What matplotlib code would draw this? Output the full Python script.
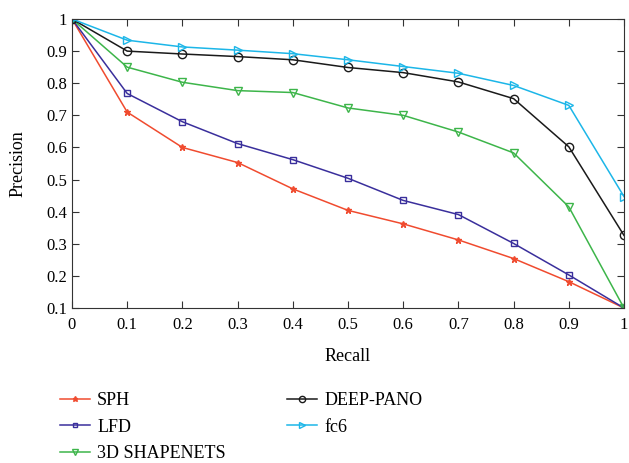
import matplotlib
matplotlib.use("Agg")
import matplotlib.pyplot as plt

recall = [0, 0.1, 0.2, 0.3, 0.4, 0.5, 0.6, 0.7, 0.8, 0.9, 1.0]
sph = [1.0, 0.71, 0.60, 0.553, 0.471, 0.404, 0.362, 0.312, 0.254, 0.182, 0.10]
lfd = [1.0, 0.768, 0.68, 0.612, 0.562, 0.504, 0.435, 0.391, 0.301, 0.203, 0.10]
shapenets = [1.0, 0.85, 0.803, 0.777, 0.771, 0.723, 0.70, 0.648, 0.583, 0.415, 0.10]
deeppano = [1.0, 0.90, 0.891, 0.883, 0.873, 0.849, 0.833, 0.804, 0.752, 0.602, 0.326]
fc6 = [1.0, 0.934, 0.913, 0.903, 0.892, 0.873, 0.852, 0.831, 0.793, 0.731, 0.447]

xticks = [0, 0.1, 0.2, 0.3, 0.4, 0.5, 0.6, 0.7, 0.8, 0.9, 1]
xticklabels = ["0", "0.1", "0.2", "0.3", "0.4", "0.5", "0.6", "0.7", "0.8", "0.9", "1"]
yticks = [0.1, 0.2, 0.3, 0.4, 0.5, 0.6, 0.7, 0.8, 0.9, 1.0]
yticklabels = ["0.1", "0.2", "0.3", "0.4", "0.5", "0.6", "0.7", "0.8", "0.9", "1"]

plt.rcParams['font.family'] = ['Liberation Serif', 'DejaVu Serif']

fig = plt.figure(figsize=(6.29, 4.63), dpi=100)
ax = fig.add_axes([72/629, 1 - 308/463, (624 - 72)/629, (308 - 19)/463])

lw = 1.1
ax.plot(recall, sph, color='#f04b2f', marker='*', ms=5, lw=lw, label='SPH')
ax.plot(recall, lfd, color='#3a2f9c', marker='s', ms=4.5, mfc='none', mew=1.0, lw=lw, label='LFD')
ax.plot(recall, shapenets, color='#3db54a', marker='v', ms=6, mfc='none', mew=1.0, lw=lw, label='3D SHAPENETS')
ax.plot(recall, deeppano, color='#1a1a1a', marker='o', ms=6, mfc='none', mew=1.0, lw=lw, label='DEEP-PANO')
ax.plot(recall, fc6, color='#1cb6e8', marker='>', ms=6, mfc='none', mew=1.0, lw=lw, label='fc6')

ax.set_xlim(0, 1)
ax.set_ylim(0.1, 1.0)
ax.set_xticks(xticks)
ax.set_xticklabels(xticklabels)
ax.set_yticks(yticks)
ax.set_yticklabels(yticklabels)
ax.tick_params(direction='in', top=True, right=True, labelsize=12, length=5, color='#333333')
ax.tick_params(axis='x', pad=6.5)
for s in ax.spines.values():
    s.set_color('#333333')
ax.set_xlabel('Recall', fontsize=13, labelpad=11)
ax.set_ylabel('Precision', fontsize=13, labelpad=14)

handles, labels = ax.get_legend_handles_labels()
leg = fig.legend(handles, labels,
                 loc='upper left', bbox_to_anchor=(60/629, 1 - 392/463), ncol=2,
                 frameon=False, fontsize=13, handlelength=1.66, handletextpad=0.4,
                 columnspacing=3.4, labelspacing=0.53, markerscale=0.75,
                 borderaxespad=0, borderpad=0)

fig.savefig('out.png', dpi=100)
